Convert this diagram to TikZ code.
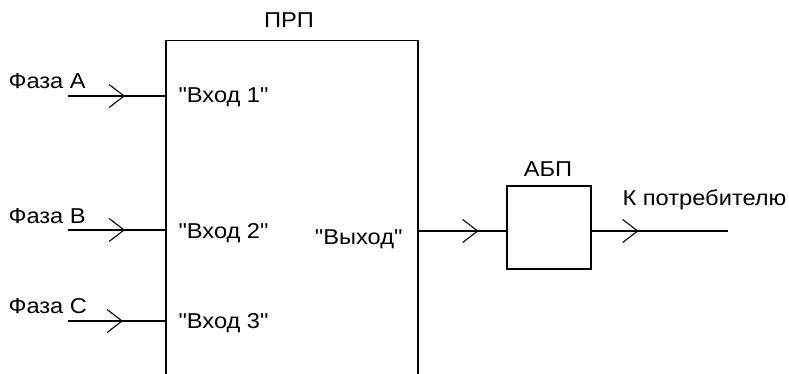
\documentclass[tikz,border=0pt]{standalone}
\usepackage{fontspec}
\setmainfont{Liberation Sans}[Ligatures=TeXOff,FakeStretch=1.1]
\usetikzlibrary{arrows.meta,decorations.markings}
\begin{document}
\begin{tikzpicture}[x=1pt,y=-1pt,line width=1.1pt,
  lbl/.style={font=\fontsize{21.5}{22}\selectfont,inner sep=0pt},
  flow/.style={postaction={decorate},decoration={markings,
     mark=at position #1 with {\arrow{Straight Barb[length=15pt,width=23pt,line width=1.1pt]}}}}]
\useasboundingbox (0,0) rectangle (789,374);
% blocks
\node[draw,minimum width=252pt,minimum height=360pt,inner sep=0pt] (prp) at (292,220.5) {};
\node[draw,minimum width=84pt,minimum height=83pt,inner sep=0pt] (abp) at (549,227.5) {};
% titles
\node[lbl,anchor=base] (tprp) at (289,28) {ПРП};
\node[lbl,anchor=base] (tabp) at (548,177) {АБП};
% input labels
\node[lbl,anchor=base west] (fa) at (8,89) {Фаза A};
\node[lbl,anchor=base west] (fb) at (8,223) {Фаза B};
\node[lbl,anchor=base west] (fc) at (8,313) {Фаза C};
\coordinate (sa) at (68,96);
\coordinate (sb) at (68,230);
\coordinate (sc) at (68,321);
% inner labels
\node[lbl,anchor=base west] (in1) at (178,103) {"Вход 1"};
\node[lbl,anchor=base west] (in2) at (178,238) {"Вход 2"};
\node[lbl,anchor=base west] (in3) at (178,328) {"Вход 3"};
\node[lbl,anchor=base east] (out) at (403,244) {"Выход"};
\node[lbl,anchor=base west] (cons) at (622,205) {К потребителю};
% connectors
\draw[flow=57pt] (sa) -- (sa -| prp.west);
\draw[flow=57pt] (sb) -- (sb -| prp.west);
\draw[flow=55pt] (sc) -- (sc -| prp.west);
\coordinate (oy) at (0,231);
\coordinate (end) at (728,231);
\draw[flow=60pt] (prp.east |- oy) -- (abp.west |- oy);
\draw[flow=47pt] (abp.east |- oy) -- (end);
\end{tikzpicture}
\end{document}
